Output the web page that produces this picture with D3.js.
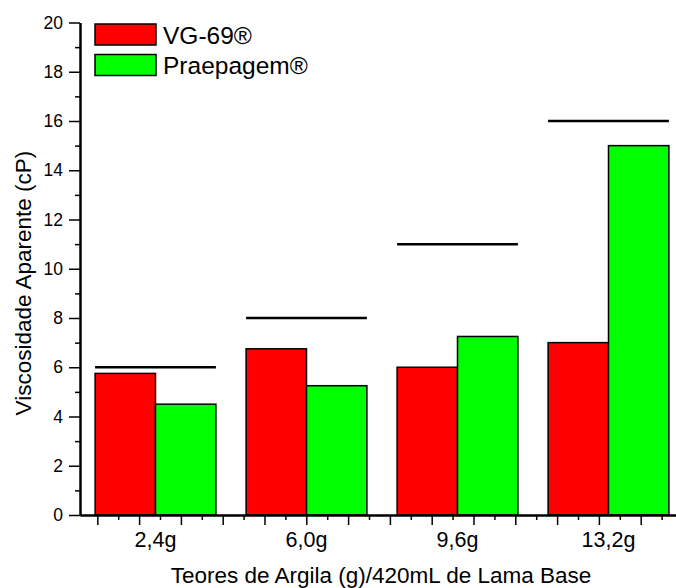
<!DOCTYPE html>
<html>
<head>
<meta charset="utf-8">
<script src="https://cdn.jsdelivr.net/npm/d3@7"></script>
<style>
  body { margin: 0; background: #fff; }
  svg { display: block; font-family: "Liberation Sans", Arial, sans-serif; }
</style>
</head>
<body>
<div id="wrapper"></div>
<script>
const categories = ['2,4g', '6,0g', '9,6g', '13,2g']
const seriesNames = ['VG-69®', 'Praepagem®']
const vg69 = [5.75, 6.75, 6.0, 7.0]
const praepagem = [4.5, 5.25, 7.25, 15.0]
const refLevels = [6, 8, 11, 16]
const yTickLabels = [0, 2, 4, 6, 8, 10, 12, 14, 16, 18, 20]

const colors = ['#ff0000', '#00ff00']

function drawChart() {
  const dimensions = {
    width: 676,
    height: 588,
    margin: { top: 22.5, left: 80 },
    boundedWidth: 604,
    boundedHeight: 492.5,
  }

  const wrapper = d3.select('#wrapper')
    .append('svg')
      .attr('width', dimensions.width)
      .attr('height', dimensions.height)

  const bounds = wrapper.append('g')
      .attr('transform', `translate(${dimensions.margin.left}, ${dimensions.margin.top})`)

  const xScale = d3.scaleBand()
      .domain(categories)
      .range([0, dimensions.boundedWidth])
      .paddingInner(0.2)
      .paddingOuter(0.1)

  const subScale = d3.scaleBand()
      .domain(seriesNames)
      .range([0, xScale.bandwidth()])

  // plain numeric scale only used for the tick marks along the bottom
  const xTickScale = d3.scaleLinear()
      .domain([-0.414, 14.036])
      .range([0, dimensions.boundedWidth])

  const yScale = d3.scaleLinear()
      .domain([0, 20])
      .range([dimensions.boundedHeight, 0])

  const rows = categories.map((c, i) => ({
    category: c,
    values: [vg69[i], praepagem[i]],
    ref: refLevels[i],
  }))

  // Draw data

  const groups = bounds.selectAll('g.group')
    .data(rows)
    .join('g')
      .attr('class', 'group')
      .attr('transform', d => `translate(${xScale(d.category)}, 0)`)

  groups.selectAll('rect')
    .data(d => d.values.map((v, i) => ({ name: seriesNames[i], value: v, i })))
    .join('rect')
      .attr('x', d => subScale(d.name))
      .attr('y', d => yScale(d.value))
      .attr('width', subScale.bandwidth())
      .attr('height', d => dimensions.boundedHeight - yScale(d.value))
      .attr('fill', d => colors[d.i])
      .attr('stroke', '#000')
      .attr('stroke-width', 1.5)

  groups.append('line')
      .attr('x1', 0)
      .attr('x2', xScale.bandwidth())
      .attr('y1', d => yScale(d.ref))
      .attr('y2', d => yScale(d.ref))
      .attr('stroke', '#000')
      .attr('stroke-width', 2.5)

  // Draw peripherals

  const yAxis = bounds.append('g')
      .call(d3.axisLeft(yScale)
        .tickValues(d3.range(1, 20, 2))
        .tickSize(5)
        .tickSizeOuter(0)
        .tickFormat(''))
  yAxis.append('g')
      .call(d3.axisLeft(yScale)
        .tickValues(yTickLabels)
        .tickSize(11)
        .tickSizeOuter(0)
        .tickPadding(6))
  yAxis.selectAll('path.domain').attr('stroke-width', 2)
  yAxis.selectAll('.tick line').attr('stroke-width', 1.5)
  yAxis.selectAll('.tick text')
      .attr('font-size', 17.5)
      .attr('font-family', '"Liberation Sans", Arial, sans-serif')
      .attr('fill', '#000')

  const xAxis = bounds.append('g')
      .attr('transform', `translate(0, ${dimensions.boundedHeight})`)
  xAxis.append('g')
      .call(d3.axisBottom(xTickScale)
        .tickValues(d3.range(0.5, 14, 1))
        .tickSize(5)
        .tickSizeOuter(0)
        .tickFormat(''))
  xAxis.append('g')
      .call(d3.axisBottom(xTickScale)
        .tickValues(d3.range(0, 14, 1))
        .tickSize(10)
        .tickSizeOuter(0)
        .tickFormat(''))
  xAxis.append('g')
      .call(d3.axisBottom(xScale)
        .tickSize(0)
        .tickPadding(17))
    .call(g => g.select('.domain').remove())
  xAxis.selectAll('path.domain').attr('stroke-width', 2)
  xAxis.selectAll('.tick line').attr('stroke-width', 1.5)
  xAxis.selectAll('.tick text')
      .attr('font-size', 21.5)
      .attr('font-family', '"Liberation Sans", Arial, sans-serif')
      .attr('fill', '#000')

  wrapper.append('text')
      .attr('x', 381)
      .attr('y', 583)
      .attr('text-anchor', 'middle')
      .attr('font-size', 22.5)
      .text('Teores de Argila (g)/420mL de Lama Base')

  wrapper.append('text')
      .attr('transform', 'translate(31, 283) rotate(-90)')
      .attr('text-anchor', 'middle')
      .attr('font-size', 22.5)
      .text('Viscosidade Aparente (cP)')

  // legend
  const legend = wrapper.append('g')
      .attr('transform', 'translate(95, 24)')
  const items = legend.selectAll('g')
    .data(seriesNames)
    .join('g')
      .attr('transform', (d, i) => `translate(0, ${i * 30.5})`)
  items.append('rect')
      .attr('width', 61)
      .attr('height', 21)
      .attr('fill', (d, i) => colors[i])
      .attr('stroke', '#000')
      .attr('stroke-width', 1.5)
  items.append('text')
      .attr('x', 68)
      .attr('y', 19.5)
      .attr('font-size', 24.5)
      .text(d => d)
}

drawChart()
</script>
</body>
</html>
